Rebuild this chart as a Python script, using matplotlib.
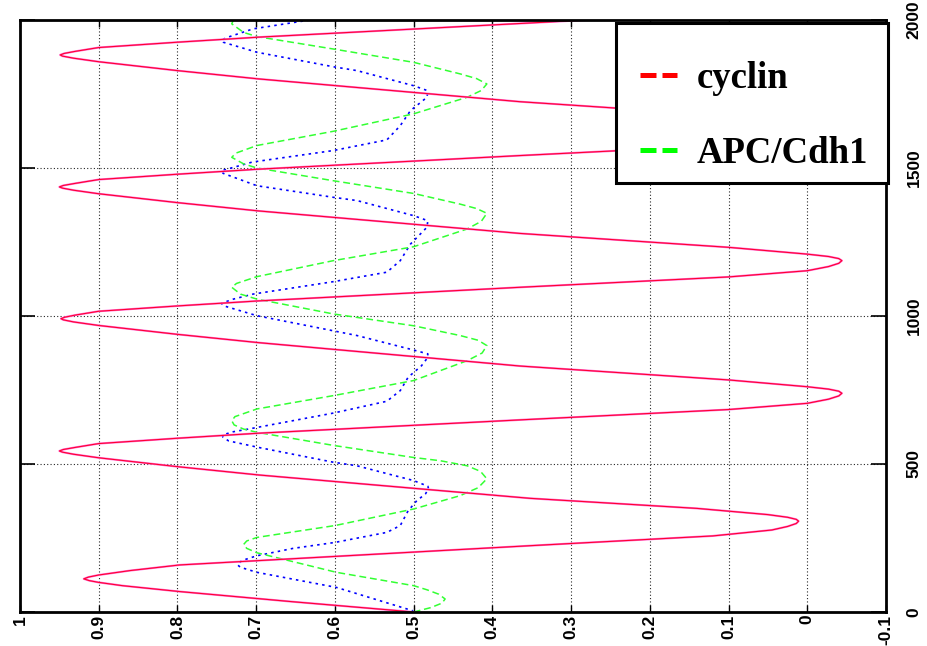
import matplotlib
matplotlib.use("Agg")
import matplotlib.pyplot as plt
from matplotlib.lines import Line2D
from matplotlib.patches import Rectangle

# ---------------- data (time, value) ----------------
cyclin_t = [0, 35, 69, 89, 100, 106, 112, 118, 125, 140, 159, 224,
            257, 277, 289, 299, 307, 313, 320, 329, 350, 384,
            463, 491, 521, 533, 540, 544, 549, 556, 569, 587, 604, 649,
            684, 705, 719, 730, 739, 746, 753, 761, 784, 831,
            910, 938, 968, 980, 987, 991, 996, 1003, 1016, 1034, 1051, 1097,
            1132, 1153, 1167, 1178, 1187, 1194, 1201, 1209, 1232, 1279,
            1355, 1383, 1413, 1425, 1432, 1436, 1441, 1448, 1461, 1479, 1496, 1542,
            1577, 1598, 1612, 1623, 1632, 1639, 1646, 1654, 1677, 1724,
            1801, 1829, 1859, 1871, 1878, 1882, 1887, 1894, 1907, 1925, 1942, 2000]
cyclin_v = [0.50, 0.655, 0.797, 0.87, 0.90, 0.912, 0.919, 0.913, 0.90, 0.86, 0.797, 0.352,
            0.12, 0.045, 0.025, 0.014, 0.011, 0.014, 0.025, 0.05, 0.14, 0.352,
            0.697, 0.80, 0.90, 0.932, 0.946, 0.950, 0.945, 0.930, 0.90, 0.80, 0.697, 0.365,
            0.10, 0.0, -0.027, -0.040, -0.044, -0.040, -0.027, 0.0, 0.10, 0.365,
            0.697, 0.80, 0.90, 0.932, 0.945, 0.948, 0.943, 0.930, 0.90, 0.80, 0.697, 0.365,
            0.10, 0.0, -0.027, -0.040, -0.044, -0.040, -0.027, 0.0, 0.10, 0.365,
            0.697, 0.80, 0.90, 0.932, 0.946, 0.950, 0.945, 0.930, 0.90, 0.80, 0.697, 0.365,
            0.10, 0.0, -0.027, -0.040, -0.044, -0.040, -0.027, 0.0, 0.10, 0.365,
            0.697, 0.80, 0.90, 0.932, 0.946, 0.949, 0.944, 0.930, 0.90, 0.80, 0.697, 0.28]

apc_t = [0, 15, 30, 44, 60, 75, 89, 134, 200, 215, 228, 240, 252, 292, 348, 393, 420, 450, 475, 494, 511, 522,
         562, 607, 618, 632, 646, 660, 686, 731, 782, 849, 875, 900, 918, 934, 967, 1007, 1057, 1074, 1097,
         1110, 1133, 1187, 1234, 1294, 1320, 1347, 1363, 1378, 1414, 1457, 1500, 1514, 1536, 1550, 1576,
         1624, 1683, 1739, 1762, 1784, 1802, 1818, 1857, 1902, 1944, 1958, 1987, 2000]
apc_v = [0.500, 0.478, 0.464, 0.460, 0.468, 0.483, 0.500, 0.598, 0.699, 0.712, 0.716, 0.712, 0.699, 0.600, 0.500, 0.441, 0.418, 0.407, 0.415, 0.432, 0.466, 0.500,
         0.600, 0.699, 0.716, 0.728, 0.731, 0.727, 0.699, 0.602, 0.500, 0.432, 0.413, 0.407, 0.418, 0.441, 0.500, 0.602, 0.699, 0.720, 0.731,
         0.725, 0.699, 0.602, 0.500, 0.432, 0.414, 0.407, 0.420, 0.441, 0.500, 0.602, 0.699, 0.716, 0.731, 0.726, 0.699,
         0.602, 0.500, 0.432, 0.414, 0.407, 0.420, 0.441, 0.500, 0.602, 0.699, 0.716, 0.731, 0.729]

blue_t = [0, 5, 83, 134, 151, 160, 174, 190, 215, 235, 269, 292, 342, 376, 399, 416, 425, 444, 494, 506, 556, 578, 590, 598,
          609, 618, 672, 712, 748, 793, 832, 860, 872, 885, 934, 950, 1001, 1035, 1043,
          1057, 1074, 1116, 1148, 1187, 1243, 1300, 1322, 1339, 1390, 1401, 1440, 1482, 1491,
          1502, 1520, 1559, 1595, 1643, 1694, 1739, 1761, 1778, 1829, 1842, 1891, 1925, 1932,
          1941, 1970, 2000]
blue_v = [0.500, 0.502, 0.598, 0.699, 0.720, 0.724, 0.718, 0.699, 0.653, 0.600, 0.534, 0.517, 0.507, 0.496, 0.485, 0.481, 0.482, 0.500, 0.572, 0.602, 0.697, 0.735, 0.742, 0.743,
          0.729, 0.710, 0.602, 0.534, 0.517, 0.507, 0.490, 0.482, 0.482, 0.500, 0.572, 0.602, 0.699, 0.742, 0.744,
          0.729, 0.704, 0.602, 0.534, 0.517, 0.504, 0.483, 0.482, 0.500, 0.572, 0.602, 0.699, 0.742, 0.744,
          0.729, 0.705, 0.602, 0.534, 0.517, 0.504, 0.483, 0.482, 0.500, 0.572, 0.602, 0.699, 0.742, 0.744,
          0.737, 0.704, 0.632]

x_ticks = [1.0, 0.9, 0.8, 0.7, 0.6, 0.5, 0.4, 0.3, 0.2, 0.1, 0.0, -0.1]
x_tick_labels = ["1", "0.9", "0.8", "0.7", "0.6", "0.5", "0.4", "0.3", "0.2", "0.1", "0", "-0.1"]
y_ticks = [0, 500, 1000, 1500, 2000]
y_tick_labels = ["0", "500", "1000", "1500", "2000"]
legend_labels = ["cyclin", "APC/Cdh1"]

# ---------------- figure ----------------
W, H = 927, 646
fig = plt.figure(figsize=(W / 100, H / 100), dpi=100)
ax = fig.add_axes([20 / W, (H - 612) / H, 866 / W, 592 / H])

ax.plot(blue_v, blue_t, color=(0, 0, 1), lw=1.2, linestyle=(0, (1.5, 2.5)))
ax.plot(apc_v, apc_t, color=(0.2, 1, 0.2), lw=1.1, linestyle=(0, (4.5, 2.5)))
ax.plot(cyclin_v, cyclin_t, color="#ff70d8", lw=1.5)
ax.plot(cyclin_v, cyclin_t, color="#ff0030", lw=0.8)

ax.set_xlim(1.0, -0.1)
ax.set_ylim(0, 2000)

lab_font = dict(family=["Liberation Sans Narrow", "Liberation Sans", "DejaVu Sans"], weight="bold", size=12.5)
ax.set_xticks(x_ticks)
ax.set_xticklabels(x_tick_labels, rotation=90, ha="center", va="top", **lab_font)
ax.set_yticks(y_ticks)
ax.set_yticklabels(y_tick_labels, rotation=90, ha="left", va="center", **lab_font)

ax.tick_params(axis="x", which="both", direction="in", top=True, bottom=True, length=5, width=1, pad=2)
ax.tick_params(axis="y", which="both", direction="in", left=True, right=True,
               labelleft=False, labelright=True, length=11, width=1.2, pad=15)

ax.grid(True, color="black", linestyle=(0, (1, 2)), linewidth=0.8, alpha=0.85)
for s in ax.spines.values():
    s.set_linewidth(2.0)
    s.set_color("black")

# legend box (frame) in figure pixels: x 616-888, y 23-183
fig.add_artist(Rectangle((616 / W, 1 - 183 / H), 272 / W, 160 / H, transform=fig.transFigure,
                         facecolor="white", edgecolor="black", linewidth=2.2, zorder=4))

handles = [Line2D([0], [0], color="red", lw=3.6, linestyle=(0, (3.2, 1.2))),
           Line2D([0], [0], color=(0, 1, 0), lw=3.6, linestyle=(0, (3.2, 1.2)))]
leg = fig.legend(handles, legend_labels, loc="upper left",
                 bbox_to_anchor=(640 / W, 1 - 61 / H), bbox_transform=fig.transFigure,
                 prop=dict(family=["Liberation Serif", "DejaVu Serif"], weight="bold", size=26.5),
                 frameon=False, borderpad=0, labelspacing=1.076,
                 handlelength=1.0, handletextpad=0.54, borderaxespad=0)
leg.set_zorder(5)

fig.savefig("out.png", dpi=100)
